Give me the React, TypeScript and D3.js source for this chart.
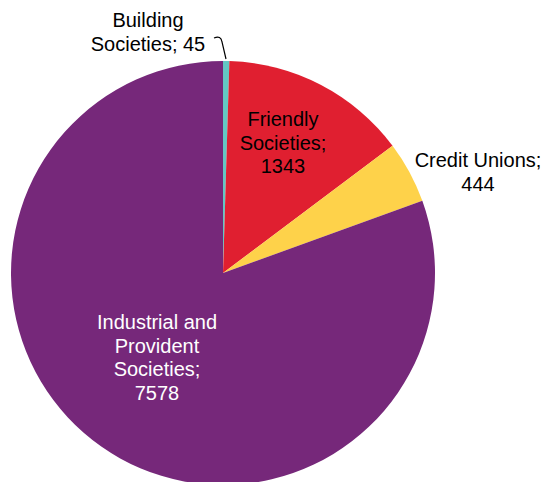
import React from 'react';
import * as d3 from 'd3';

const categories = ['Building Societies', 'Friendly Societies', 'Credit Unions', 'Industrial and Provident Societies'];
const values = [45, 1343, 444, 7578];
const colors = ['#63c8c3', '#e01f30', '#fed24a', '#76287a'];

const width = 544;
const height = 482;
const cx = 223;
const cy = 273;
const radius = 212;

// label lines and positions, picked by eye from the reference
const labelLines = [
  ['Building', 'Societies; 45'],
  ['Friendly', 'Societies;', '1343'],
  ['Credit Unions;', '444'],
  ['Industrial and', 'Provident', 'Societies;', '7578'],
];
const labelPos: [number, number][] = [
  [148, 27],
  [283, 126],
  [478, 167],
  [157, 329],
];
const labelColors = ['#000', '#000', '#000', '#fff'];

const App: React.FC = () => {
  const pie = d3.pie<number>().sort(null).value(d => d);
  const arcs = pie(values);
  const arc = d3.arc<d3.PieArcDatum<number>>().innerRadius(0).outerRadius(radius);

  const lineHeight = 23.5;

  return (
    <svg width={width} height={height} style={{ position: 'absolute', left: 0, top: 0 }}>
      <g transform={`translate(${cx},${cy})`}>
        {arcs.map((a, i) => (
          <path key={categories[i]} d={arc(a)!} fill={colors[i]} />
        ))}
      </g>
      {/* leader line for the tiny slice */}
      <path d="M214,38 Q221,35 222,42 L226,59" fill="none" stroke="#000" strokeWidth={1.2} />
      {labelLines.map((lines, i) => (
        <text
          key={categories[i]}
          x={labelPos[i][0]}
          y={labelPos[i][1]}
          textAnchor="middle"
          fontFamily="Liberation Sans, Arial, sans-serif"
          fontSize={20}
          fill={labelColors[i]}
        >
          {lines.map((l, j) => (
            <tspan key={j} x={labelPos[i][0]} dy={j === 0 ? 0 : lineHeight}>
              {l}
            </tspan>
          ))}
        </text>
      ))}
    </svg>
  );
};

export default App;
